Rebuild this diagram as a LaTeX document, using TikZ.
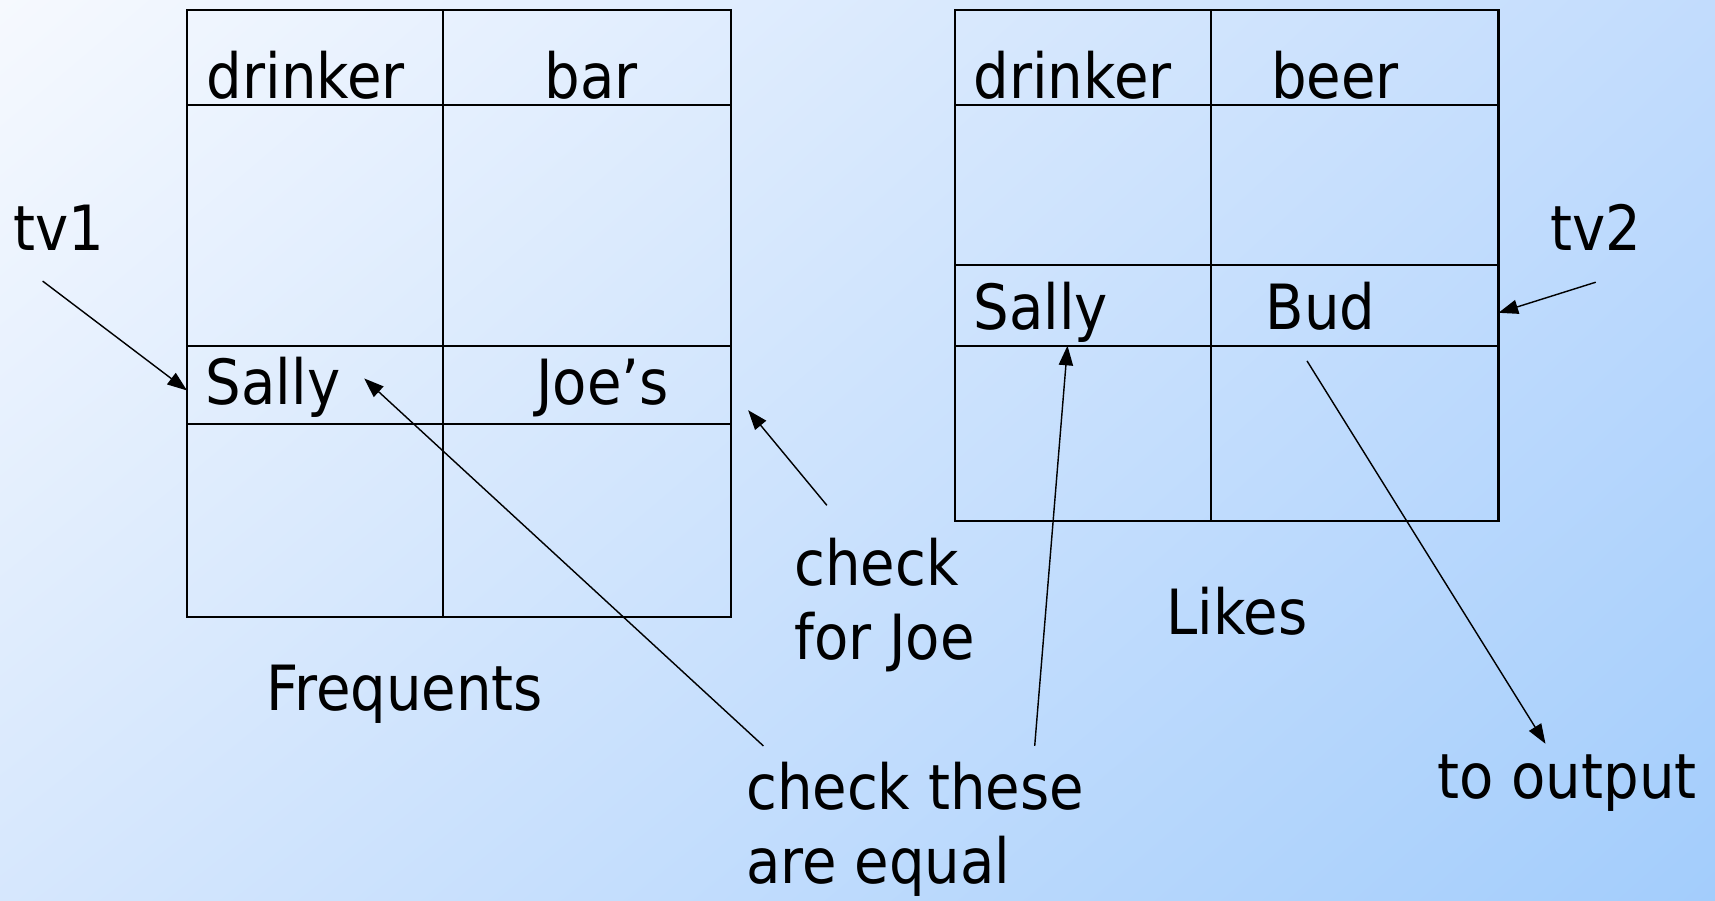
\documentclass[tikz,border=0pt]{standalone}
\usepackage{fontspec}
\setmainfont{DejaVu Sans}[FakeStretch=0.9]
\usetikzlibrary{arrows.meta,shadings}
\definecolor{bgTL}{HTML}{F6F9FE}
\definecolor{bgTR}{HTML}{C2DCFD}
\definecolor{bgBL}{HTML}{D6E7FD}
\definecolor{bgBR}{HTML}{A3CDFC}
\begin{document}
\begin{tikzpicture}[x=1pt,y=-1pt,
  lbl/.style={font=\fontsize{57}{67}\selectfont, inner sep=0pt, anchor=base west, text=black},
  mlbl/.style={lbl, align=left, anchor=north west},
  gridline/.style={line width=2pt, line cap=rect},
  arr/.style={line width=1.3pt, -{Triangle[length=18pt,width=13pt]}}]
\useasboundingbox (0,0) rectangle (1568,823);
\shade[upper left=bgTL, upper right=bgTR, lower left=bgBL, lower right=bgBR] (0,0) rectangle (1568,823);

% Frequents table
\draw[gridline] (171,9) rectangle (668,564);
\draw[gridline] (405,9) -- (405,564);
\draw[gridline] (171,96) -- (668,96) (171,316) -- (668,316) (171,388) -- (668,388);

% Likes table
\draw[gridline] (873,9) rectangle (1370,476);
\draw[gridline] (1107,9) -- (1107,476);
\draw[gridline] (873,96) -- (1370,96) (873,242) -- (1370,242) (873,316) -- (1370,316);

% cell texts
\node[lbl] (fdr) at (189,90) {drinker};
\node[lbl] (fbar) at (498,90) {bar};
\node[lbl] (ldr) at (890,90) {drinker};
\node[lbl] (lbeer) at (1162,90) {beer};
\node[lbl] (fsally) at (188,370) {Sally};
\node[lbl] (fjoe) at (490,370) {Joe’s};
\node[lbl] (lsally) at (890,301) {Sally};
\node[lbl] (lbud) at (1157,301) {Bud};

% labels
\node[lbl] (tv1) at (12,229) {tv1};
\node[lbl] (tv2) at (1417,229) {tv2};
\node[lbl] (frequents) at (243,650) {Frequents};
\node[lbl] (likes) at (1066,580) {Likes};
\node[lbl] (output) at (1314,730) {to output};
\node[mlbl] (joecheck) at (726,492) {check\\for Joe};
\node[mlbl] (eqcheck) at (682,697) {check these\\are equal};

% arrow end points
\coordinate (tv1s) at (39,257);
\coordinate (tv1e) at (171,357);
\coordinate (tv2s) at (1459,258);
\coordinate (tv2e) at (1370,286);
\coordinate (joes) at (756,462);
\coordinate (joee) at (684,375);
\coordinate (eqas) at (698,682);
\coordinate (eqae) at (333,346);
\coordinate (eqbs) at (946,682);
\coordinate (eqbe) at (976,316);
\coordinate (outs) at (1195,330);
\coordinate (oute) at (1413,680);

\draw[arr] (tv1s) -- (tv1e);
\draw[arr] (tv2s) -- (tv2e);
\draw[arr] (joes) -- (joee);
\draw[arr] (eqas) -- (eqae);
\draw[arr] (eqbs) -- (eqbe);
\draw[arr] (outs) -- (oute);
\end{tikzpicture}
\end{document}
